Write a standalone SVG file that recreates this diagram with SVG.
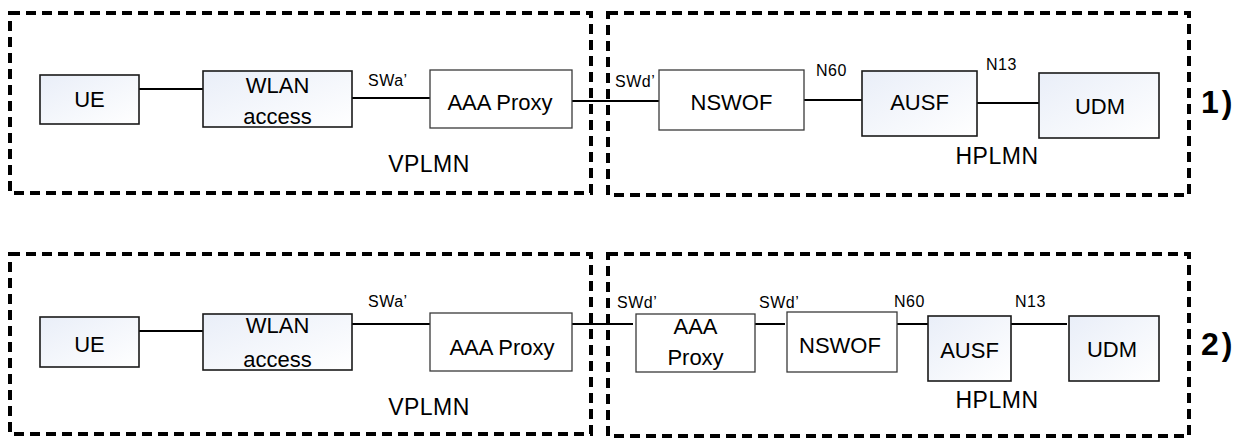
<svg xmlns="http://www.w3.org/2000/svg" width="1253" height="439" viewBox="0 0 1253 439">
<defs>
<linearGradient id="g" x1="0" y1="0" x2="1" y2="1">
<stop offset="0" stop-color="#e9eef8"/>
<stop offset="1" stop-color="#ffffff"/>
</linearGradient>
<style>
.zone{fill:none;stroke:#000;stroke-width:4;stroke-dasharray:10 6}
.g{fill:url(#g);stroke:#1a1a1a;stroke-width:1.6}
.w{fill:#fff;stroke:#3a3a3a;stroke-width:1.3}
.t{font-family:"Liberation Sans",Arial,sans-serif;font-size:22px;fill:#000;text-anchor:middle}
.s{font-family:"Liberation Sans",Arial,sans-serif;font-size:16px;fill:#000;letter-spacing:0.5px}
.z{font-family:"Liberation Sans",Arial,sans-serif;font-size:23px;fill:#000;text-anchor:middle;letter-spacing:0.5px}
.n{font-family:"Liberation Sans",Arial,sans-serif;font-size:32px;font-weight:bold;fill:#000;letter-spacing:3px}
.c{stroke:#000;stroke-width:2;fill:none}
</style>
</defs>
<g id="zones">
<rect class="zone" x="10" y="13" width="581" height="180"/>
<rect class="zone" x="608" y="13" width="581" height="182"/>
<rect class="zone" x="10" y="254" width="581" height="180"/>
<rect class="zone" x="608" y="254" width="581" height="182"/>
<text class="z" x="429" y="172">VPLMN</text>
<text class="z" x="997" y="164">HPLMN</text>
<text class="z" x="429" y="415">VPLMN</text>
<text class="z" x="997" y="408">HPLMN</text>
<text class="n" x="1201" y="113">1)</text>
<text class="n" x="1201" y="355">2)</text>
</g>
<g id="connectors">
<line class="c" x1="139" y1="89" x2="203" y2="89"/>
<line class="c" x1="352" y1="98" x2="430" y2="98"/>
<line class="c" x1="572" y1="101" x2="659" y2="101"/>
<line class="c" x1="804" y1="100" x2="862" y2="100"/>
<line class="c" x1="971" y1="103" x2="1039" y2="103"/>
<text class="s" x="368" y="86">SWa’</text>
<text class="s" x="615" y="87">SWd’</text>
<text class="s" x="816" y="76">N60</text>
<text class="s" x="986" y="70">N13</text>
<line class="c" x1="139" y1="331" x2="203" y2="331"/>
<line class="c" x1="352" y1="324" x2="430" y2="324"/>
<line class="c" x1="572" y1="324" x2="633" y2="324"/>
<line class="c" x1="747" y1="324" x2="785" y2="324"/>
<line class="c" x1="893" y1="324" x2="932" y2="324"/>
<line class="c" x1="1008" y1="324" x2="1067" y2="324"/>
<text class="s" x="368" y="307">SWa’</text>
<text class="s" x="617" y="308">SWd’</text>
<text class="s" x="759" y="308">SWd’</text>
<text class="s" x="894" y="307">N60</text>
<text class="s" x="1015" y="307">N13</text>
</g>
<g id="r1-ue"><rect class="g" x="40" y="75" width="99" height="49"/><text class="t" x="89.5" y="107">UE</text></g>
<g id="r1-wlan"><rect class="g" x="203" y="71" width="149" height="56"/><text class="t" x="277.5" y="93">WLAN</text><text class="t" x="277.5" y="124">access</text></g>
<g id="r1-aaa"><rect class="w" x="430" y="70" width="142" height="58"/><text class="t" x="500" y="110">AAA Proxy</text></g>
<g id="r1-nswof"><rect class="w" x="659" y="70" width="145" height="60"/><text class="t" x="731.5" y="110">NSWOF</text></g>
<g id="r1-ausf"><rect class="g" x="862" y="71" width="115" height="65"/><text class="t" x="919.5" y="110">AUSF</text></g>
<g id="r1-udm"><rect class="g" x="1039" y="73" width="120" height="65"/><text class="t" x="1100" y="114">UDM</text></g>
<g id="r2-ue"><rect class="g" x="40" y="317" width="99" height="50"/><text class="t" x="89.5" y="352">UE</text></g>
<g id="r2-wlan"><rect class="g" x="203" y="314" width="149" height="56"/><text class="t" x="277.5" y="333">WLAN</text><text class="t" x="277.5" y="367">access</text></g>
<g id="r2-aaa1"><rect class="w" x="430" y="313" width="142" height="58"/><text class="t" x="502" y="355">AAA Proxy</text></g>
<g id="r2-aaa2"><rect class="w" x="636" y="314" width="119" height="58"/><text class="t" x="695.5" y="334">AAA</text><text class="t" x="695.5" y="365">Proxy</text></g>
<g id="r2-nswof"><rect class="w" x="787" y="312" width="110" height="60"/><text class="t" x="840" y="353">NSWOF</text></g>
<g id="r2-ausf"><rect class="g" x="928" y="316" width="83" height="65"/><text class="t" x="969.5" y="358">AUSF</text></g>
<g id="r2-udm"><rect class="g" x="1069" y="316" width="90" height="65"/><text class="t" x="1112" y="357">UDM</text></g>
</svg>
